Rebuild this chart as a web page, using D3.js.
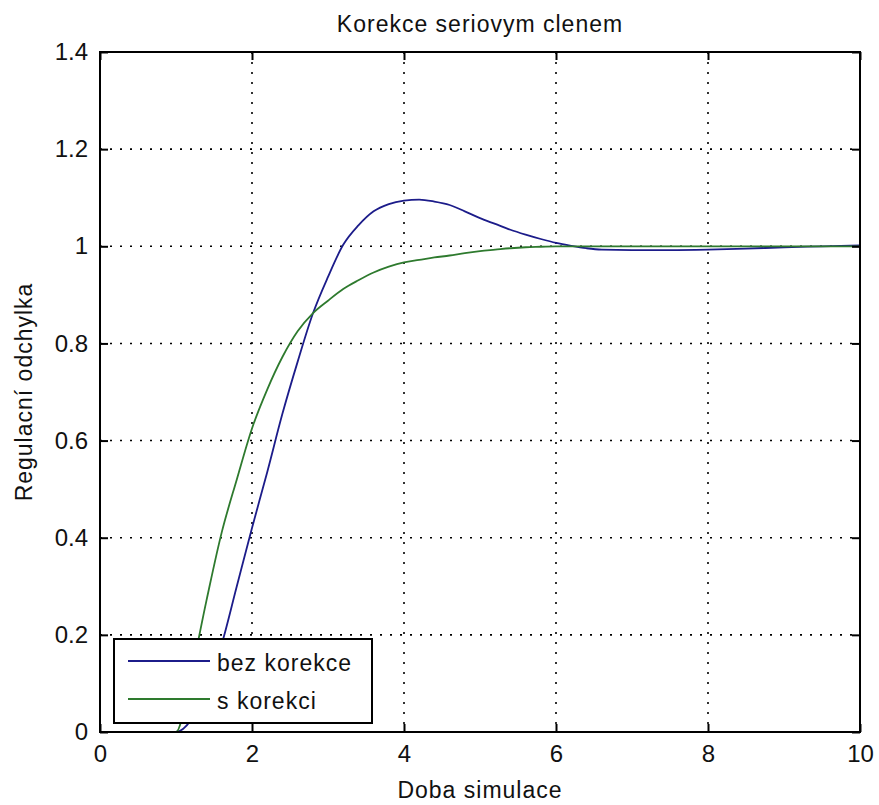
<html>
<head>
<meta charset="utf-8">
<style>
body{margin:0;background:#fff;}
text{font-family:"Liberation Sans",Arial,sans-serif;fill:#111;}
</style>
</head>
<body>
<svg id="graph" width="879" height="805"></svg>
<script src="https://d3js.org/d3.v7.min.js"></script>
<script>
// cas simulace a odezvy obou regulacnich obvodu
var time = [0, 1, 1.2, 1.4, 1.6, 1.8, 2, 2.2, 2.4, 2.6, 2.8, 3, 3.2, 3.4, 3.6, 3.8, 4, 4.2, 4.4, 4.6, 4.8, 5, 5.2, 5.4, 5.6, 5.8, 6, 6.2, 6.4, 6.6, 7, 7.5, 8, 8.5, 9, 9.5, 10];
var bezKorekce = [0, 0, 0.025, 0.09, 0.18, 0.30, 0.42, 0.535, 0.655, 0.762, 0.861, 0.937, 1.003, 1.043, 1.072, 1.087, 1.094, 1.096, 1.092, 1.085, 1.072, 1.058, 1.046, 1.034, 1.024, 1.015, 1.007, 1.001, 0.996, 0.993, 0.992, 0.992, 0.993, 0.995, 0.998, 1.0, 1.002];
var sKorekci = [0, 0, 0.12, 0.27, 0.41, 0.52, 0.625, 0.705, 0.772, 0.825, 0.862, 0.888, 0.912, 0.93, 0.946, 0.958, 0.967, 0.972, 0.977, 0.981, 0.986, 0.99, 0.993, 0.996, 0.998, 0.999, 1.0, 1.0, 1.0, 1.0, 1.0, 1.0, 1.0, 1.0, 1.0, 1.0, 1.0];
var xTicks = [0, 2, 4, 6, 8, 10];
var yTicks = [0, 0.2, 0.4, 0.6, 0.8, 1, 1.2, 1.4];
var seriesNames = ["bez korekce", "s korekci"];
var colors = ["#1c1c8a", "#2e7a2e"];

var mLeft = 100, mRight = 860, mTop = 52, mBottom = 732;
var svg = d3.select('#graph');
var x = d3.scaleLinear().domain([0, 10]).range([mLeft, mRight]);
var y = d3.scaleLinear().domain([0, 1.4]).range([mBottom, mTop]);

// mrizka
svg.append('g').selectAll('line')
	.data(xTicks.slice(1, -1))
	.enter().append('line')
	.attr('x1', function(d){return x(d);}).attr('x2', function(d){return x(d);})
	.attr('y1', mTop).attr('y2', mBottom)
	.attr('stroke', '#000').attr('stroke-width', 1.6).attr('stroke-dasharray', '2,8');
svg.append('g').selectAll('line')
	.data(yTicks.slice(1, -1))
	.enter().append('line')
	.attr('y1', function(d){return y(d);}).attr('y2', function(d){return y(d);})
	.attr('x1', mLeft).attr('x2', mRight)
	.attr('stroke', '#000').attr('stroke-width', 1.6).attr('stroke-dasharray', '2,8');

// krivky
var series = [bezKorekce, sKorekci];
var line = d3.line()
	.x(function(d, i){return x(time[i]);})
	.y(function(d){return y(d);})
	.curve(d3.curveMonotoneX);
svg.selectAll('path.serie')
	.data(series)
	.enter().append('path')
	.attr('class', 'serie')
	.attr('d', line)
	.attr('fill', 'none')
	.attr('stroke', function(d, i){return colors[i];})
	.attr('stroke-width', 1.8);

// osy
var fmt = d3.format('~g');
svg.append('g').attr('transform', 'translate(0,' + mBottom + ')')
	.call(d3.axisBottom(x).tickValues(xTicks).tickSize(-8).tickPadding(13).tickFormat(fmt));
svg.append('g').attr('transform', 'translate(' + mLeft + ',0)')
	.call(d3.axisLeft(y).tickValues(yTicks).tickSize(-8).tickPadding(12).tickFormat(fmt));
svg.append('g').attr('transform', 'translate(0,' + mTop + ')')
	.call(d3.axisTop(x).tickValues(xTicks).tickSize(-8).tickFormat(''));
svg.append('g').attr('transform', 'translate(' + mRight + ',0)')
	.call(d3.axisRight(y).tickValues(yTicks).tickSize(-8).tickFormat(''));
svg.selectAll('.domain').remove();
svg.selectAll('.tick line').attr('stroke', '#000').attr('stroke-width', 2);
svg.selectAll('.tick text')
	.style('font-size', '24px')
	.style('font-family', '"Liberation Sans Narrow","Liberation Sans",Arial,sans-serif')
	.attr('fill', '#222');

svg.append('rect')
	.attr('x', mLeft).attr('y', mTop)
	.attr('width', mRight - mLeft).attr('height', mBottom - mTop)
	.attr('fill', 'none').attr('stroke', '#000').attr('stroke-width', 2);

// popisky
svg.append('text')
	.attr('x', (mLeft + mRight) / 2).attr('y', 32)
	.attr('text-anchor', 'middle')
	.style('font-size', '23px').style('letter-spacing', '1px')
	.text('Korekce seriovym clenem');
svg.append('text')
	.attr('x', (mLeft + mRight) / 2).attr('y', 798)
	.attr('text-anchor', 'middle')
	.style('font-size', '23px').style('letter-spacing', '1px')
	.text('Doba simulace');
svg.append('text')
	.attr('transform', 'translate(32,' + ((mTop + mBottom) / 2) + ') rotate(-90)')
	.attr('text-anchor', 'middle')
	.style('font-size', '23px').style('letter-spacing', '1px')
	.text('Regulacní odchylka');

// legenda
var legend = svg.append('g');
legend.append('rect')
	.attr('x', 114).attr('y', 639)
	.attr('width', 258).attr('height', 84)
	.attr('fill', '#fff').attr('stroke', '#000').attr('stroke-width', 2);
var items = legend.selectAll('g.item')
	.data(seriesNames)
	.enter().append('g')
	.attr('class', 'item')
	.attr('transform', function(d, i){return 'translate(0,' + (661 + i * 38) + ')';});
items.append('line')
	.attr('x1', 128).attr('x2', 210)
	.attr('stroke', function(d, i){return colors[i];})
	.attr('stroke-width', 1.8);
items.append('text')
	.attr('x', 217).attr('y', 10)
	.style('font-size', '23px').style('letter-spacing', '1px')
	.text(function(d){return d;});
</script>
</body>
</html>
